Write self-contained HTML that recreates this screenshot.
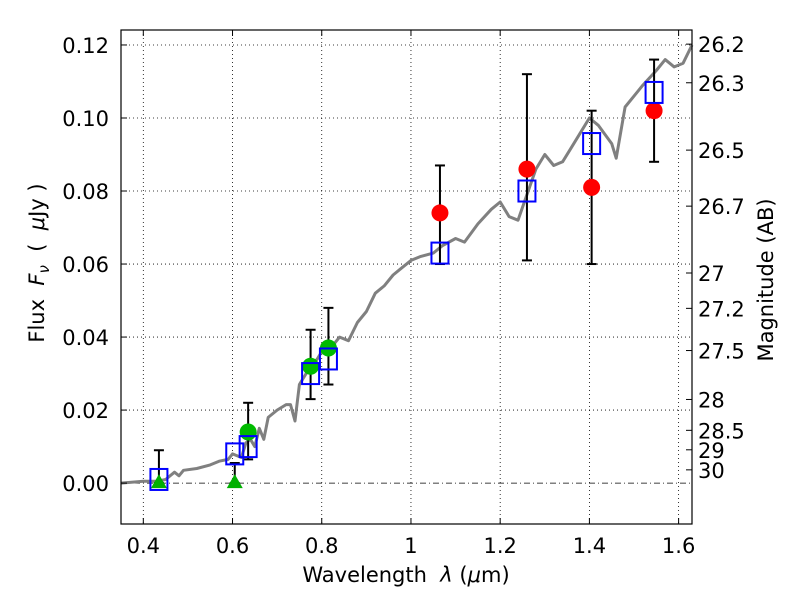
<!DOCTYPE html>
<html><head><meta charset="utf-8"><style>
body{margin:0;background:#fff}
svg text{font-family:"DejaVu Sans","Liberation Sans",sans-serif;fill:#000;white-space:pre}
</style></head><body>
<svg id="chart" width="800" height="600" xmlns="http://www.w3.org/2000/svg">
<rect width="800" height="600" fill="#fff"/>
<g id="grid"></g>
<g id="spec"></g>
<g id="marks"></g>
<rect x="121" y="30" width="571" height="494" fill="none" stroke="#000" stroke-width="1.2"/>
<g id="axes"></g>
<text x="406" y="582" font-size="21" text-anchor="middle">Wavelength&#160;&#160;<tspan font-style="italic">λ</tspan> (<tspan font-style="italic">μ</tspan>m)</text>
<text transform="translate(44,263) rotate(-90)" font-size="21" text-anchor="middle">Flux&#160;&#160;<tspan font-style="italic">F</tspan><tspan font-style="italic" font-size="15" dy="5">ν</tspan><tspan dy="-5">&#160;&#160;(&#160;&#160;</tspan><tspan font-style="italic">μ</tspan>Jy )</text>
<text transform="translate(773,280) rotate(-90)" font-size="21" text-anchor="middle">Magnitude (AB)</text>
</svg>
<script>
const specWave=[0.35,0.40,0.43,0.45,0.47,0.48,0.49,0.52,0.55,0.57,0.59,0.60,0.62,0.63,0.64,0.65,0.66,0.67,0.68,0.70,0.72,0.73,0.74,0.75,0.77,0.79,0.80,0.82,0.84,0.86,0.88,0.90,0.92,0.94,0.96,0.98,1.0,1.02,1.05,1.07,1.10,1.12,1.15,1.18,1.20,1.22,1.24,1.26,1.28,1.30,1.32,1.34,1.36,1.40,1.42,1.45,1.46,1.48,1.50,1.52,1.55,1.57,1.59,1.61,1.63];
const specFlux=[0.000,0.0005,0.0005,0.001,0.003,0.002,0.0035,0.004,0.005,0.006,0.0065,0.008,0.007,0.011,0.012,0.010,0.015,0.012,0.018,0.020,0.0215,0.0215,0.017,0.027,0.031,0.034,0.036,0.037,0.040,0.039,0.044,0.047,0.052,0.054,0.057,0.059,0.061,0.062,0.063,0.065,0.067,0.066,0.071,0.075,0.077,0.073,0.072,0.079,0.086,0.090,0.087,0.088,0.092,0.100,0.098,0.093,0.089,0.103,0.106,0.109,0.113,0.116,0.114,0.115,0.120];
const modelWave=[0.435,0.605,0.635,0.775,0.815,1.065,1.26,1.405,1.545];
const modelFlux=[0.001,0.008,0.010,0.030,0.034,0.063,0.080,0.093,0.107];
const obsWave=[0.435,0.605,0.635,0.775,0.815,1.065,1.26,1.405,1.545];
const obsFlux=[0.000,0.000,0.014,0.032,0.037,0.074,0.086,0.081,0.102];
const obsLow=[0.000,0.000,0.0065,0.023,0.027,0.060,0.061,0.060,0.088];
const obsHigh=[0.009,0.0055,0.022,0.042,0.048,0.087,0.112,0.102,0.116];
const obsKind=['limit','limit','green','green','green','red','red','red','red'];
const xTicks=[0.4,0.6,0.8,1.0,1.2,1.4,1.6];
const xTickLabels=['0.4','0.6','0.8','1','1.2','1.4','1.6'];
const yTicks=[0,0.02,0.04,0.06,0.08,0.10,0.12];
const yTickLabels=['0.00','0.02','0.04','0.06','0.08','0.10','0.12'];
const magTicks=[26.2,26.3,26.5,26.7,27,27.2,27.5,28,28.5,29,30];
const L=121,R=692,T=30,B=524,X0=0.35,X1=1.63,Y0=-0.0112,Y1=0.1241;
const sx=v=>L+(v-X0)/(X1-X0)*(R-L);
const sy=v=>B-(v-Y0)/(Y1-Y0)*(B-T);
const NS='http://www.w3.org/2000/svg';
function mk(tag,attrs,parent){const e=document.createElementNS(NS,tag);for(const k in attrs)e.setAttribute(k,attrs[k]);parent.appendChild(e);return e;}
const grid=document.getElementById('grid'),axes=document.getElementById('axes'),spec=document.getElementById('spec'),marks=document.getElementById('marks');
xTicks.forEach((v,i)=>{const x=sx(v);
 let g=mk('line',{x1:x,x2:x,y1:T,y2:B,stroke:'#000','stroke-width':0.8,'stroke-dasharray':'1,3'},grid);
 
 mk('line',{x1:x,x2:x,y1:B,y2:B-6,stroke:'#000'},axes);mk('line',{x1:x,x2:x,y1:T,y2:T+6,stroke:'#000'},axes);
 let t=mk('text',{x:x,y:B+29,'font-size':21,'text-anchor':'middle'},axes);t.textContent=xTickLabels[i];
 });
yTicks.forEach((v,i)=>{const y=sy(v);
 let g=mk('line',{x1:L,x2:R,y1:y,y2:y,stroke:'#000','stroke-width':0.8,'stroke-dasharray':v===0?'6,3,1,3':'1,3'},grid);
 
 mk('line',{x1:L,x2:L+6,y1:y,y2:y,stroke:'#000'},axes);
 let t=mk('text',{x:L-12,y:y+8,'font-size':21,'text-anchor':'end'},axes);t.textContent=yTickLabels[i];
 });
magTicks.forEach(m=>{const f=Math.pow(10,(23.9-m)/2.5);const y=sy(f);
 mk('line',{x1:R,x2:R-6,y1:y,y2:y,stroke:'#000'},axes);
 let t=mk('text',{x:R+6,y:y+8,'font-size':21},axes);t.textContent=String(m);
 });
let d=specWave.map((w,i)=>(i?'L':'M')+sx(w).toFixed(1)+','+sy(specFlux[i]).toFixed(1)).join(' ');
let p=mk('path',{d:d,fill:'none',stroke:'#808080','stroke-width':3,'stroke-linejoin':'round'},spec);

obsWave.forEach((w,i)=>{const x=sx(w);
 let e=mk('g',{},marks);
 mk('line',{x1:x,x2:x,y1:sy(obsLow[i]),y2:sy(obsHigh[i]),stroke:'#000','stroke-width':2},e);
 mk('line',{x1:x-5,x2:x+5,y1:sy(obsLow[i]),y2:sy(obsLow[i]),stroke:'#000','stroke-width':2},e);
 mk('line',{x1:x-5,x2:x+5,y1:sy(obsHigh[i]),y2:sy(obsHigh[i]),stroke:'#000','stroke-width':2},e);
 const y=sy(obsFlux[i]);let m;
 if(obsKind[i]==='limit'){m=mk('polygon',{points:`${x-8},${y+5} ${x+8},${y+5} ${x},${y-9}`,fill:'#00b000'},marks);}
 else{m=mk('circle',{cx:x,cy:y,r:8.5,fill:obsKind[i]==='red'?'#ff0000':'#00bb00'},marks);}
 });
modelWave.forEach((w,i)=>{
 let s=mk('rect',{x:sx(w)-8.5,y:sy(modelFlux[i])-10.5,width:17,height:21,fill:'none',stroke:'#0000ff','stroke-width':2},marks);
 });
</script>
</body></html>
